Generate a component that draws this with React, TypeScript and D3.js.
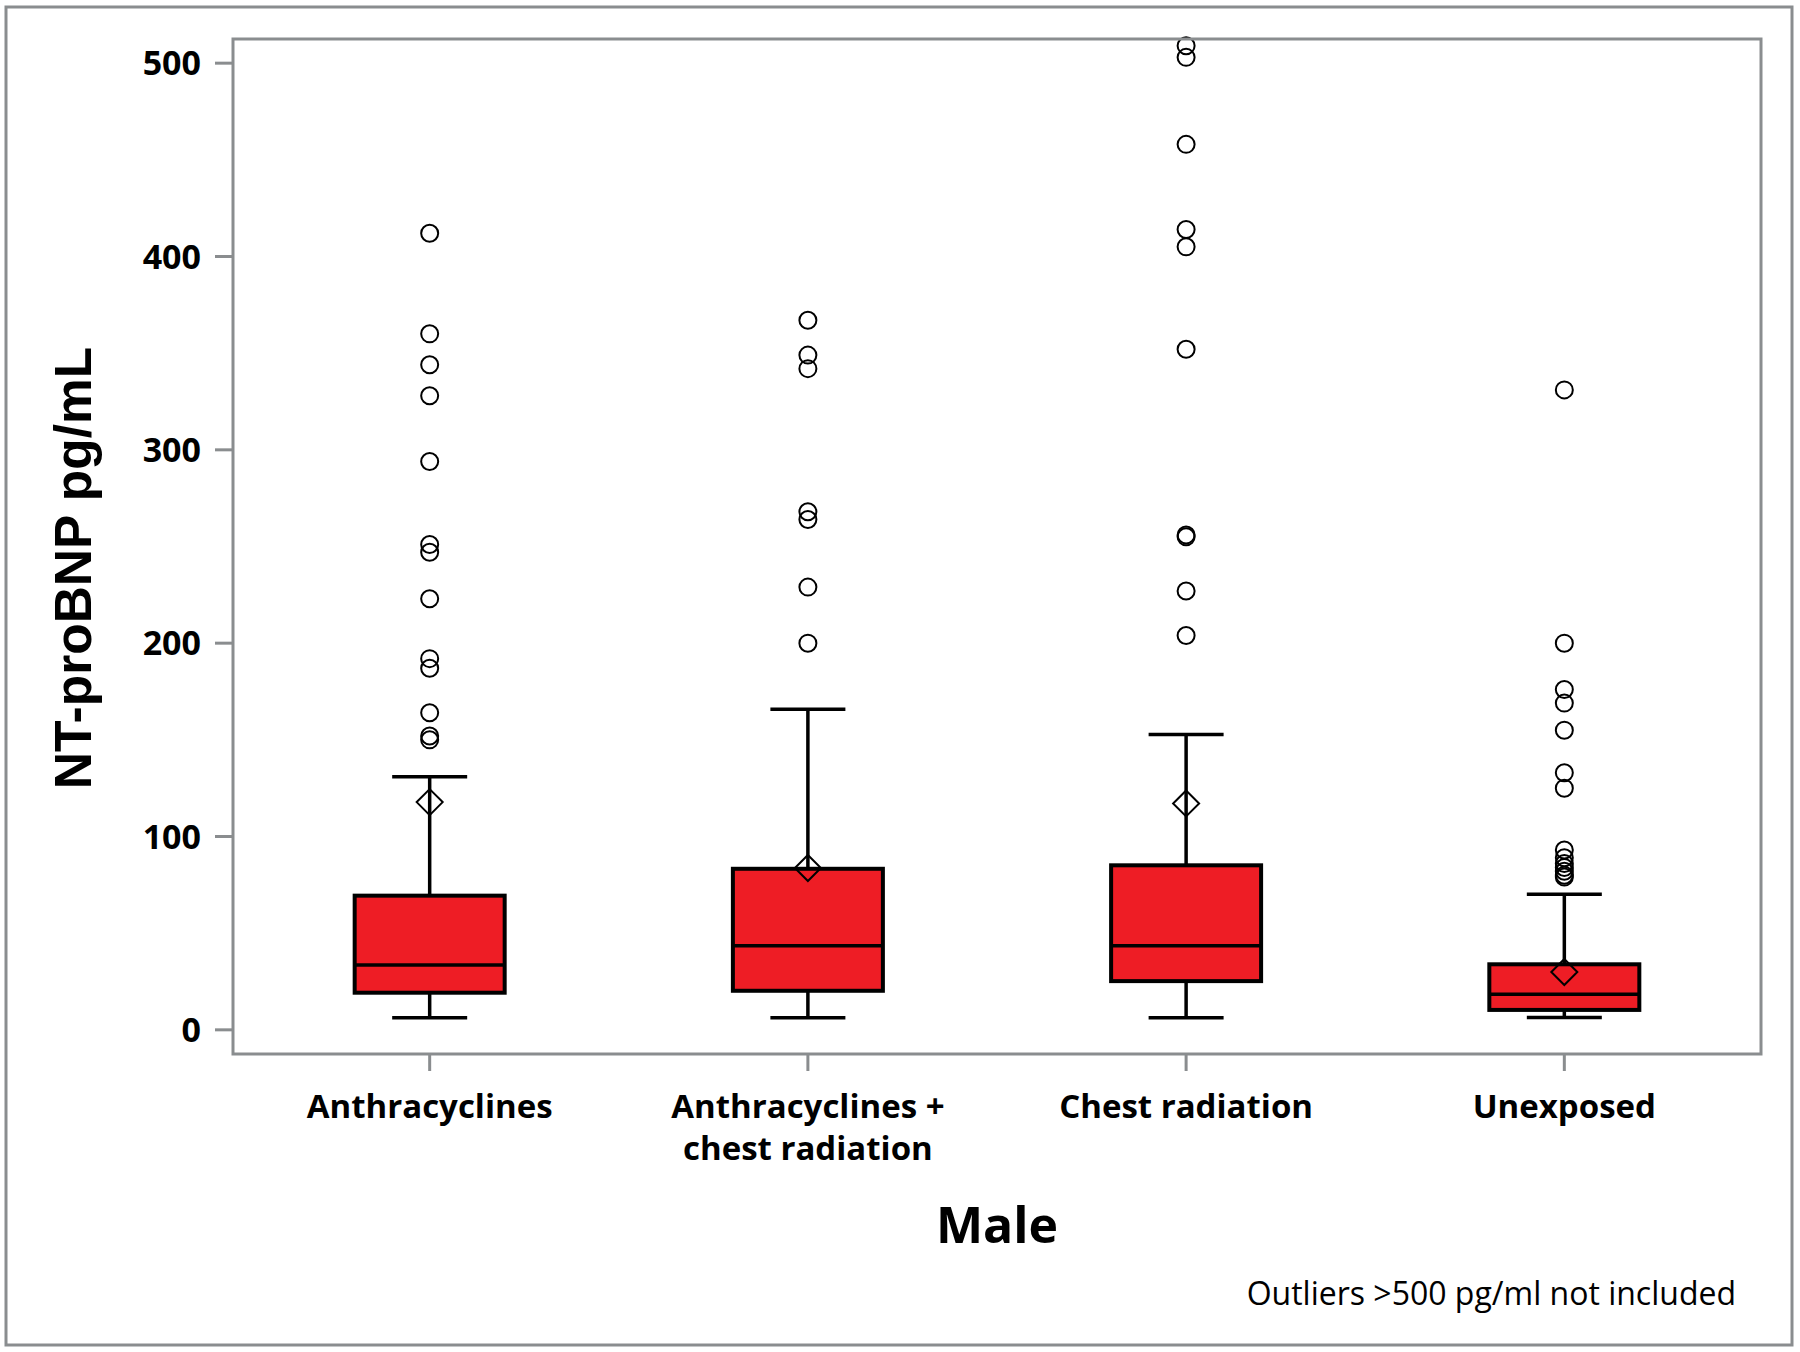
import React from 'react';
import * as d3 from 'd3';

// categories and box statistics (NT-proBNP pg/mL)
const categories = ['Anthracyclines', 'Anthracyclines +\nchest radiation', 'Chest radiation', 'Unexposed'];
const whiskerLow = [6.3, 6.3, 6.3, 6.4];
const q1 = [19.2, 20.2, 25.2, 10.3];
const median = [33.5, 43.5, 43.5, 18.4];
const q3 = [69.4, 83.3, 85.1, 33.9];
const whiskerHigh = [130.9, 165.8, 152.8, 70.1];
const mean = [117.8, 83.7, 117.1, 29.9];
const outliers = [
    [412, 360, 344, 328, 294, 251, 247, 223, 192, 187, 164, 152, 150],
    [367, 349, 342, 268, 264, 229, 200],
    [509, 503, 458, 414, 405, 352, 256, 255, 227, 204],
    [331, 200, 176, 169, 155, 133, 125, 93, 89, 86, 84, 82, 80, 79],
];
const yTicks = [0, 100, 200, 300, 400, 500];

const W = 1800;
const H = 1352;
const plot = { left: 233, right: 1761, top: 39, bottom: 1054 };
const gray = '#8a8d8f';
const red = '#ee1d25';
const sans = '"Open Sans", "Noto Sans", sans-serif';

const App: React.FC = () => {
    const x = d3
        .scalePoint<string>()
        .domain(categories)
        .range([plot.left, plot.right])
        .padding(0.52);
    const y = d3.scaleLinear().domain([-12.5, 512.5]).range([plot.bottom, plot.top]);

    const boxW = 150;
    const capW = 75;
    const diamond = 13;

    return (
        <svg
            width={W}
            height={H}
            viewBox={`0 0 ${W} ${H}`}
            style={{ position: 'absolute', left: 0, top: 0, background: '#fff' }}
        >
            <rect x={6} y={7} width={1786} height={1338} fill="none" stroke={gray} strokeWidth={3} />

            {/* y axis ticks */}
            {yTicks.map((t) => (
                <g key={t}>
                    <line x1={plot.left - 18} x2={plot.left} y1={y(t)} y2={y(t)} stroke={gray} strokeWidth={3} />
                    <text
                        x={201}
                        y={y(t) + 12}
                        textAnchor="end"
                        fontFamily={sans}
                        fontWeight={700}
                        fontSize={34}
                    >
                        {t}
                    </text>
                </g>
            ))}

            {/* x axis ticks + labels */}
            {categories.map((c) => (
                <g key={c}>
                    <line x1={x(c)} x2={x(c)} y1={plot.bottom} y2={plot.bottom + 17} stroke={gray} strokeWidth={3} />
                    {c.split('\n').map((line, i) => (
                        <text
                            key={i}
                            x={x(c)}
                            y={1118 + i * 42}
                            textAnchor="middle"
                            fontFamily={sans}
                            fontWeight={700}
                            fontSize={33}
                        >
                            {line}
                        </text>
                    ))}
                </g>
            ))}

            {/* boxes */}
            {categories.map((c, i) => {
                const cx = x(c)!;
                return (
                    <g key={c}>
                        <line x1={cx} x2={cx} y1={y(whiskerHigh[i])} y2={y(q3[i])} stroke="#000" strokeWidth={3.5} />
                        <line x1={cx} x2={cx} y1={y(q1[i])} y2={y(whiskerLow[i])} stroke="#000" strokeWidth={3.5} />
                        <line x1={cx - capW / 2} x2={cx + capW / 2} y1={y(whiskerHigh[i])} y2={y(whiskerHigh[i])} stroke="#000" strokeWidth={3.5} />
                        <line x1={cx - capW / 2} x2={cx + capW / 2} y1={y(whiskerLow[i])} y2={y(whiskerLow[i])} stroke="#000" strokeWidth={3.5} />
                        <rect
                            x={cx - boxW / 2}
                            y={y(q3[i])}
                            width={boxW}
                            height={y(q1[i]) - y(q3[i])}
                            fill={red}
                            stroke="#000"
                            strokeWidth={4}
                        />
                        <line x1={cx - boxW / 2} x2={cx + boxW / 2} y1={y(median[i])} y2={y(median[i])} stroke="#000" strokeWidth={3.5} />
                        <path
                            d={`M${cx},${y(mean[i]) - diamond}L${cx + diamond},${y(mean[i])}L${cx},${y(mean[i]) + diamond}L${cx - diamond},${y(mean[i])}Z`}
                            fill="none"
                            stroke="#000"
                            strokeWidth={2}
                        />
                        {outliers[i].map((v, j) => (
                            <circle key={j} cx={cx} cy={y(v)} r={8.5} fill="none" stroke="#000" strokeWidth={2} />
                        ))}
                    </g>
                );
            })}

            {/* plot frame */}
            <rect
                x={plot.left}
                y={plot.top}
                width={plot.right - plot.left}
                height={plot.bottom - plot.top}
                fill="none"
                stroke={gray}
                strokeWidth={3}
            />

            <text
                transform={`translate(91,568) rotate(-90)`}
                textAnchor="middle"
                fontFamily={'"Liberation Sans", Arial, sans-serif'}
                fontWeight={700}
                fontSize={51.5}
            >
                NT-proBNP pg/mL
            </text>

            <text
                x={(plot.left + plot.right) / 2}
                y={1243}
                textAnchor="middle"
                fontFamily={sans}
                fontWeight={700}
                fontSize={50}
            >
                Male
            </text>

            <text x={1736} y={1305} textAnchor="end" fontFamily={sans} fontSize={32}>
                Outliers &gt;500 pg/ml not included
            </text>
        </svg>
    );
};

export default App;
